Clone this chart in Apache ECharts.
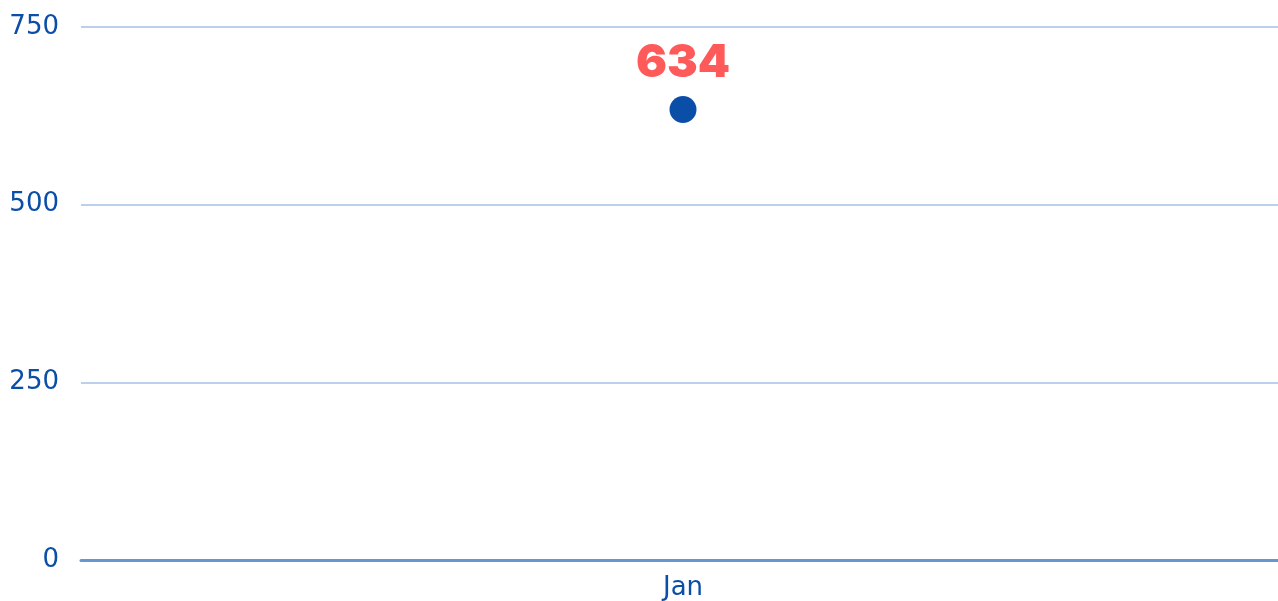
<!DOCTYPE html>
<html>
<head>
<meta charset="utf-8">
<style>
  html, body { margin: 0; padding: 0; background: #fff; }
  #main { width: 1278px; height: 601px; }
</style>
<script src="https://cdn.jsdelivr.net/npm/echarts@6/dist/echarts.min.js"></script>
</head>
<body>
<div id="main"></div>
<script>
// 数据
var categories = ['Jan'];
var values = [634];
var yTicks = [0, 250, 500, 750];

var chartDom = document.getElementById('main');
var myChart = echarts.init(chartDom);
var option;

option = {
  animation: false,
  grid: {
    left: 81,
    right: -7,
    top: 27,
    bottom: 41,
    outerBoundsMode: 'none'
  },
  xAxis: {
    type: 'category',
    data: categories,
    axisLine: { lineStyle: { color: '#6a96cf', width: 3 } },
    axisTick: { show: false },
    axisLabel: {
      color: '#0b4ea8',
      fontSize: 26,
      fontFamily: 'DejaVu Sans',
      margin: 15
    }
  },
  yAxis: {
    type: 'value',
    min: yTicks[0],
    max: yTicks[yTicks.length - 1],
    interval: 250,
    axisLine: { show: false },
    axisTick: { show: false },
    axisLabel: {
      color: '#0b4ea8',
      fontSize: 26,
      fontFamily: 'DejaVu Sans',
      margin: 22,
      padding: [4, 0, 0, 0]
    },
    splitLine: { lineStyle: { color: '#bcd0ec', width: 2 } }
  },
  series: [
    {
      type: 'scatter',
      data: values,
      symbolSize: 27,
      itemStyle: { color: '#0b4ea8', opacity: 1 },
      label: {
        show: true,
        position: 'top',
        distance: 10,
        color: '#ff5a5a',
        fontSize: 46,
        fontWeight: 900,
        fontFamily: 'Inter'
      }
    }
  ]
};

option && myChart.setOption(option);
</script>
</body>
</html>
